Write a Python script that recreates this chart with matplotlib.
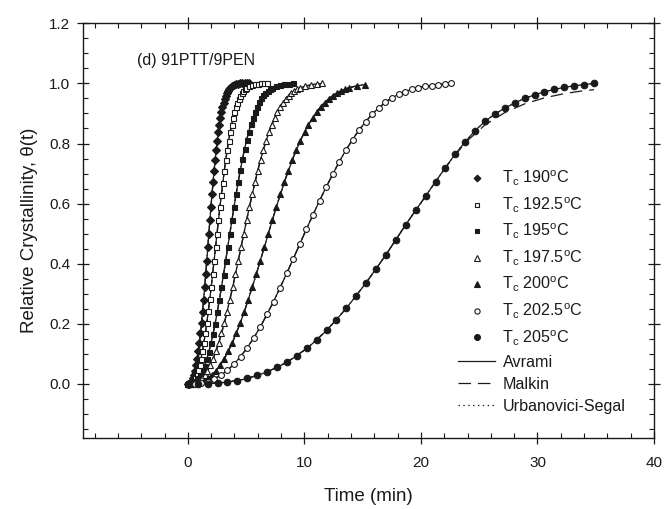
import matplotlib
matplotlib.use('Agg')
import matplotlib.pyplot as plt
from matplotlib.lines import Line2D
from matplotlib.ticker import MultipleLocator, FormatStrFormatter

plt.rcParams['font.family'] = ['Liberation Sans', 'DejaVu Sans']
plt.rcParams['mathtext.fontset'] = 'custom'
plt.rcParams['mathtext.rm'] = 'Liberation Sans'
plt.rcParams['mathtext.it'] = 'Liberation Sans:italic'
plt.rcParams['lines.scale_dashes'] = False

# ---------------- data ----------------
labels = [r'T$_\mathrm{c}$ 190$^\mathrm{o}$C', r'T$_\mathrm{c}$ 192.5$^\mathrm{o}$C',
          r'T$_\mathrm{c}$ 195$^\mathrm{o}$C', r'T$_\mathrm{c}$ 197.5$^\mathrm{o}$C',
          r'T$_\mathrm{c}$ 200$^\mathrm{o}$C', r'T$_\mathrm{c}$ 202.5$^\mathrm{o}$C',
          r'T$_\mathrm{c}$ 205$^\mathrm{o}$C']
fit_labels = ['Avrami', 'Malkin', 'Urbanovici-Segal']

t190 = [0, 0.09, 0.18, 0.27, 0.36, 0.45, 0.54, 0.63, 0.72, 0.81, 0.90, 0.99, 1.08, 1.17, 1.26,
        1.35, 1.44, 1.53, 1.62, 1.71, 1.80, 1.89, 1.98, 2.07, 2.16, 2.25, 2.34, 2.43, 2.52, 2.61,
        2.70, 2.79, 2.88, 2.97, 3.06, 3.15, 3.24, 3.33, 3.42, 3.51, 3.60, 3.78, 3.96, 4.14, 4.32,
        4.50, 4.68, 4.86, 5.04, 5.22]
th190 = [0, 0.000, 0.002, 0.005, 0.011, 0.019, 0.030, 0.044, 0.062, 0.083, 0.108, 0.136, 0.168,
         0.202, 0.240, 0.280, 0.322, 0.365, 0.410, 0.455, 0.500, 0.545, 0.589, 0.631, 0.671,
         0.710, 0.746, 0.780, 0.810, 0.838, 0.863, 0.885, 0.905, 0.922, 0.936, 0.949, 0.959,
         0.968, 0.975, 0.980, 0.985, 0.991, 0.995, 0.998, 0.999, 1.000, 1.000, 1.000, 1.000, 1.000]

t192 = [0, 0.125, 0.25, 0.375, 0.5, 0.625, 0.75, 0.875, 1.0, 1.125, 1.25, 1.375, 1.5, 1.625,
        1.75, 1.875, 2.0, 2.125, 2.25, 2.375, 2.5, 2.625, 2.75, 2.875, 3.0, 3.125, 3.25, 3.375,
        3.5, 3.625, 3.75, 3.875, 4.0, 4.125, 4.25, 4.375, 4.5, 4.625, 4.75, 4.875, 5.0, 5.25,
        5.5, 5.75, 6.0, 6.25, 6.5, 6.75]
th192 = [0, 0.000, 0.002, 0.005, 0.011, 0.019, 0.031, 0.045, 0.063, 0.084, 0.109, 0.137, 0.169,
         0.203, 0.241, 0.281, 0.322, 0.366, 0.410, 0.455, 0.500, 0.545, 0.588, 0.630, 0.670,
         0.709, 0.745, 0.779, 0.809, 0.837, 0.862, 0.884, 0.904, 0.921, 0.935, 0.948, 0.958,
         0.967, 0.974, 0.980, 0.985, 0.991, 0.995, 0.998, 0.999, 1.000, 1.000, 1.000]

t195 = [0, 0.18, 0.36, 0.54, 0.72, 0.90, 1.08, 1.26, 1.44, 1.62, 1.80, 1.98, 2.16, 2.34, 2.52,
        2.70, 2.88, 3.06, 3.24, 3.42, 3.60, 3.78, 3.96, 4.14, 4.32, 4.50, 4.68, 4.86, 5.04, 5.22,
        5.40, 5.58, 5.76, 5.94, 6.12, 6.30, 6.48, 6.66, 6.84, 7.02, 7.20, 7.56, 7.92, 8.28, 8.64,
        9.00]
th195 = [0, 0.000, 0.002, 0.005, 0.010, 0.018, 0.029, 0.043, 0.061, 0.082, 0.107, 0.135, 0.167,
         0.201, 0.239, 0.279, 0.321, 0.364, 0.409, 0.455, 0.500, 0.545, 0.589, 0.632, 0.672,
         0.711, 0.747, 0.781, 0.811, 0.839, 0.864, 0.886, 0.906, 0.923, 0.937, 0.950, 0.960,
         0.969, 0.976, 0.981, 0.986, 0.992, 0.996, 0.998, 0.999, 1.000]

t197 = [0, 0.24, 0.48, 0.72, 0.96, 1.20, 1.44, 1.68, 1.92, 2.16, 2.40, 2.64, 2.88, 3.12, 3.36,
        3.60, 3.84, 4.08, 4.32, 4.56, 4.80, 5.04, 5.28, 5.52, 5.76, 6.00, 6.24, 6.48, 6.72, 6.96,
        7.20, 7.44, 7.68, 7.92, 8.16, 8.40, 8.64, 8.88, 9.12, 9.36, 9.60, 10.08, 10.56, 11.04,
        11.52]
th197 = [0, 0.000, 0.002, 0.005, 0.011, 0.019, 0.030, 0.044, 0.062, 0.083, 0.108, 0.136, 0.168,
         0.202, 0.240, 0.280, 0.322, 0.365, 0.410, 0.455, 0.500, 0.545, 0.589, 0.631, 0.671,
         0.710, 0.746, 0.780, 0.810, 0.838, 0.863, 0.885, 0.905, 0.922, 0.936, 0.949, 0.959,
         0.968, 0.975, 0.980, 0.985, 0.991, 0.995, 0.998, 1.000]

t200 = [0, 0.35, 0.69, 1.04, 1.38, 1.73, 2.07, 2.42, 2.76, 3.11, 3.45, 3.80, 4.14, 4.49, 4.83,
        5.18, 5.52, 5.87, 6.21, 6.56, 6.90, 7.25, 7.59, 7.94, 8.28, 8.63, 8.97, 9.32, 9.66,
        10.01, 10.35, 10.70, 11.04, 11.39, 11.73, 12.08, 12.42, 12.77, 13.11, 13.46, 13.80,
        14.49, 15.18]
th200 = [0, 0.000, 0.002, 0.005, 0.011, 0.019, 0.030, 0.044, 0.062, 0.083, 0.108, 0.136, 0.168,
         0.202, 0.240, 0.280, 0.322, 0.365, 0.410, 0.455, 0.500, 0.545, 0.589, 0.631, 0.671,
         0.710, 0.746, 0.780, 0.810, 0.838, 0.863, 0.885, 0.905, 0.922, 0.936, 0.949, 0.959,
         0.968, 0.975, 0.980, 0.985, 0.992, 0.996]

t202 = [0, 0.57, 1.13, 1.70, 2.26, 2.83, 3.39, 3.96, 4.52, 5.09, 5.65, 6.22, 6.78, 7.35, 7.91,
        8.48, 9.04, 9.61, 10.17, 10.74, 11.30, 11.87, 12.43, 13.00, 13.56, 14.13, 14.69, 15.26,
        15.82, 16.39, 16.95, 17.52, 18.08, 18.65, 19.21, 19.78, 20.34, 20.91, 21.47, 22.04, 22.60]
th202 = [0, 0.001, 0.003, 0.008, 0.017, 0.029, 0.045, 0.066, 0.091, 0.120, 0.153, 0.190, 0.231,
         0.274, 0.320, 0.368, 0.416, 0.466, 0.515, 0.563, 0.610, 0.655, 0.698, 0.740, 0.778,
         0.813, 0.845, 0.873, 0.898, 0.919, 0.937, 0.952, 0.964, 0.973, 0.980, 0.986, 0.990,
         0.993, 0.996, 0.998, 1.000]

t205 = [0, 0.85, 1.70, 2.55, 3.40, 4.25, 5.10, 5.95, 6.80, 7.65, 8.50, 9.35, 10.20, 11.05,
        11.90, 12.75, 13.60, 14.45, 15.30, 16.15, 17.00, 17.85, 18.70, 19.55, 20.40, 21.25,
        22.10, 22.95, 23.80, 24.65, 25.50, 26.35, 27.20, 28.05, 28.90, 29.75, 30.60, 31.45,
        32.30, 33.15, 34.00, 34.85]
th205 = [0, 0.000, 0.001, 0.003, 0.006, 0.011, 0.018, 0.028, 0.040, 0.055, 0.072, 0.094, 0.118,
         0.146, 0.178, 0.214, 0.252, 0.294, 0.337, 0.383, 0.430, 0.480, 0.530, 0.578, 0.625,
         0.673, 0.720, 0.765, 0.806, 0.843, 0.874, 0.898, 0.918, 0.935, 0.950, 0.962, 0.972,
         0.980, 0.987, 0.992, 0.996, 1.000]
# Malkin fit deviates slightly below the data at the end of the 205 C run
malkin205_t = [0, 1.70, 3.40, 5.10, 6.80, 8.50, 10.20, 11.90, 13.60, 15.30, 17.00, 18.70, 20.40,
               22.10, 23.80, 25.50, 27.20, 28.90, 30.60, 32.30, 34.00, 34.85]
malkin205_th = [0, 0.001, 0.006, 0.018, 0.040, 0.072, 0.118, 0.178, 0.252, 0.337, 0.430, 0.530,
                0.625, 0.720, 0.803, 0.862, 0.903, 0.932, 0.952, 0.966, 0.976, 0.979]

series_t = [t190, t192, t195, t197, t200, t202, t205]
series_th = [th190, th192, th195, th197, th200, th202, th205]
markers = ['D', 's', 's', '^', '^', 'o', 'o']
filled = [True, False, True, False, True, False, True]
msizes = [3.8, 3.6, 3.6, 4.2, 4.2, 4.2, 4.7]

# ---------------- figure ----------------
ink = '#1a1a1a'
fig = plt.figure(figsize=(6.65, 5.09), dpi=100)
ax = fig.add_axes([0.1248, 0.1395, 0.8587, 0.8147])

for i in range(7):
    t, th = series_t[i], series_th[i]
    ax.plot(t, th, color=ink, lw=0.9, zorder=2)
    if i == 6:
        ax.plot(malkin205_t, malkin205_th, color=ink, lw=0.9, dashes=(9, 5), zorder=2)
    else:
        ax.plot(t, th, color=ink, lw=0.9, dashes=(9, 5), zorder=2)
    ax.plot(t, th, color=ink, lw=0.9, dashes=(1, 2.5), zorder=2)
    ax.plot(t, th, linestyle='none', marker=markers[i], ms=msizes[i],
            mfc=ink if filled[i] else 'white', mec=ink, mew=0.8, zorder=3)

ax.set_xlim(-9, 40)
ax.set_ylim(-0.18, 1.2)
ax.xaxis.set_major_locator(MultipleLocator(10))
ax.xaxis.set_minor_locator(MultipleLocator(2))
ax.yaxis.set_major_locator(MultipleLocator(0.2))
ax.yaxis.set_minor_locator(MultipleLocator(0.05))
ax.yaxis.set_major_formatter(FormatStrFormatter('%.1f'))
ax.xaxis.set_major_formatter(FormatStrFormatter('%d'))

ax.tick_params(which='major', direction='inout', length=8.5, width=0.9,
               top=True, right=True, colors=ink, labelsize=11)
ax.tick_params(which='minor', direction='in', length=3.5, width=0.8,
               top=True, right=True, colors=ink)
ax.tick_params(axis='y', which='major', pad=5)
ax.tick_params(axis='x', which='major', pad=9)
for s in ax.spines.values():
    s.set_linewidth(1.0)
    s.set_color(ink)

ax.set_xlabel('Time (min)', fontsize=13.5, color=ink, labelpad=13)
ax.set_ylabel('Relative Crystallinity, θ(t)', fontsize=13.5, color=ink, labelpad=8)

ax.text(0.0944, 0.9115, '(d) 91PTT/9PEN', transform=ax.transAxes, fontsize=11.5,
        color=ink, va='center', ha='left')

# legends
mh = [Line2D([], [], linestyle='none', marker=markers[i], ms=msizes[i] * 0.9,
             mfc=ink if filled[i] else 'white', mec=ink, mew=0.8) for i in range(7)]
leg1 = ax.legend(mh, labels, loc='upper left', bbox_to_anchor=(468.5 / 665, 1 - 169 / 509),
                 bbox_transform=fig.transFigure, frameon=False, borderpad=0, borderaxespad=0,
                 handlelength=1.0, handletextpad=1.1, labelspacing=0.45, fontsize=11.6,
                 labelcolor=ink)
ax.add_artist(leg1)
lh = [Line2D([], [], color=ink, lw=0.9),
      Line2D([], [], color=ink, lw=0.9, dashes=(9, 5)),
      Line2D([], [], color=ink, lw=0.9, dashes=(1, 2.5))]
leg2 = ax.legend(lh, fit_labels, loc='upper left', bbox_to_anchor=(458 / 665, 1 - 355 / 509),
                 bbox_transform=fig.transFigure, frameon=False, borderpad=0, borderaxespad=0,
                 handlelength=2.3, handletextpad=0.5, labelspacing=0.42, fontsize=11.6,
                 labelcolor=ink)

fig.savefig('out.png', dpi=100)
